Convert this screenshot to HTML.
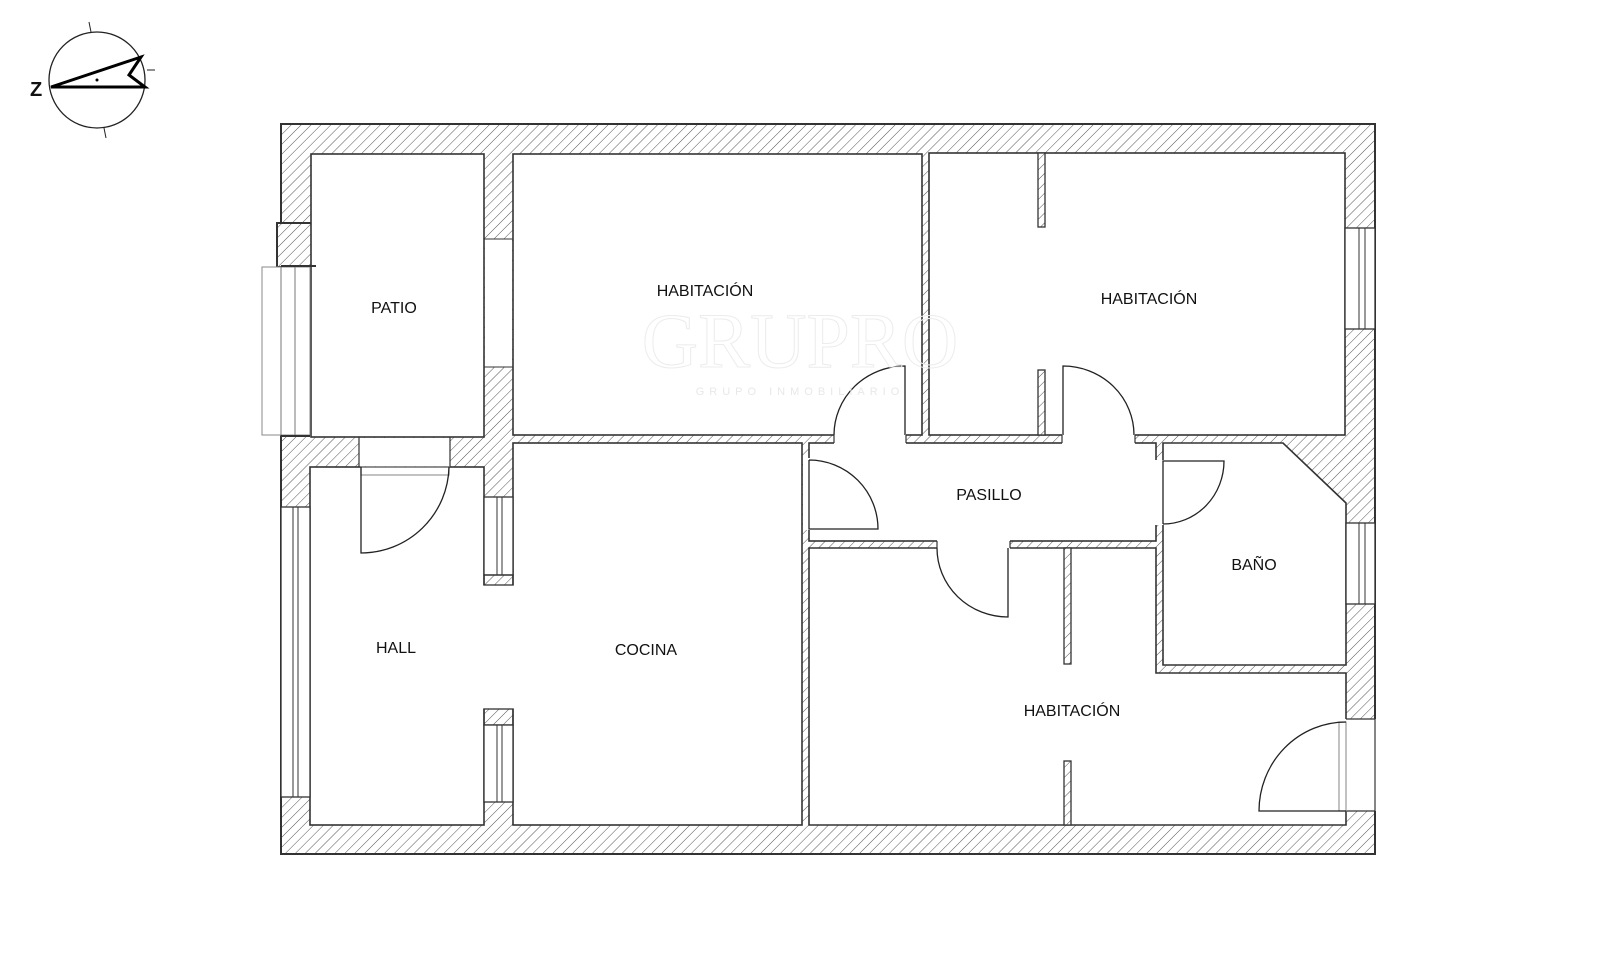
<!DOCTYPE html>
<html><head><meta charset="utf-8"><style>
html,body{margin:0;padding:0;background:#fff;}
svg{display:block;}
text{font-family:"Liberation Sans",sans-serif;fill:#111;}
</style></head><body>
<svg width="1600" height="963" viewBox="0 0 1600 963" xmlns="http://www.w3.org/2000/svg">
<defs>
<pattern id="h" patternUnits="userSpaceOnUse" width="7" height="7" patternTransform="rotate(45)">
<rect width="7" height="7" fill="#fff"/>
<line x1="0" y1="0" x2="0" y2="7" stroke="#555" stroke-width="1"/>
</pattern>
</defs>

<!-- compass -->
<circle cx="97" cy="80" r="48" fill="none" stroke="#222" stroke-width="1.3"/>
<line x1="89" y1="22" x2="91" y2="32" stroke="#222"/>
<line x1="104" y1="128" x2="106" y2="138" stroke="#222"/>
<line x1="147" y1="70" x2="155" y2="70" stroke="#222"/>
<polygon points="51,87 141,57 129,75 145,87" fill="none" stroke="#000" stroke-width="3" stroke-linejoin="miter"/>
<circle cx="97" cy="80" r="1.5" fill="#000"/>
<text x="30" y="96" font-size="20" font-weight="bold">Z</text>

<!-- outer hatched mass -->
<rect x="281" y="124" width="1094" height="730" fill="url(#h)" stroke="#333" stroke-width="2"/>
<rect x="277" y="223" width="39" height="44" fill="url(#h)" stroke="#333" stroke-width="2"/>

<g fill="#fff" stroke="#333" stroke-width="1.6">
<rect x="311" y="154" width="173" height="283"/>
<rect x="513" y="154" width="409" height="281"/>
<rect x="929" y="153" width="416" height="282"/>
<rect x="310" y="467" width="174" height="358"/>
<rect x="513" y="443" width="289" height="382"/>
<rect x="809" y="443" width="347" height="98"/>
<polygon points="1163,443 1283,443 1346,503 1346,665 1163,665"/>
<polygon points="809,548 1156,548 1156,673 1346,673 1346,825 809,825"/>
</g>

<!-- patio window (left) -->
<rect x="262" y="267" width="48" height="168" fill="#fff" stroke="#888" stroke-width="1"/>
<line x1="281" y1="267" x2="281" y2="435" stroke="#777"/>
<line x1="295" y1="267" x2="295" y2="435" stroke="#777"/>
<line x1="281" y1="266" x2="316" y2="266" stroke="#333" stroke-width="2"/>
<line x1="281" y1="436" x2="310" y2="436" stroke="#333" stroke-width="2"/>

<!-- patio-hab1 opening -->
<rect x="485" y="239" width="27" height="128" fill="#fff"/>
<line x1="484" y1="239" x2="513" y2="239" stroke="#333"/>
<line x1="484" y1="367" x2="513" y2="367" stroke="#333"/>

<!-- hall window left -->
<rect x="281" y="507" width="29" height="290" fill="#fff" stroke="#333" stroke-width="1.3"/>
<line x1="293" y1="507" x2="293" y2="797" stroke="#333"/>
<line x1="298" y1="507" x2="298" y2="797" stroke="#333"/>

<!-- hall/cocina openings -->
<rect x="482.5" y="585.5" width="32" height="123" fill="#fff"/>
<rect x="484" y="497" width="29" height="78" fill="#fff" stroke="#333" stroke-width="1.3"/>
<line x1="497" y1="497" x2="497" y2="575" stroke="#333"/><line x1="502" y1="497" x2="502" y2="575" stroke="#333"/>
<rect x="484" y="575" width="29" height="10" fill="none" stroke="#333" stroke-width="1.3"/>
<rect x="484" y="709" width="29" height="16" fill="none" stroke="#333" stroke-width="1.3"/>
<rect x="484" y="725" width="29" height="77" fill="#fff" stroke="#333" stroke-width="1.3"/>
<line x1="497" y1="725" x2="497" y2="802" stroke="#333"/><line x1="502" y1="725" x2="502" y2="802" stroke="#333"/>

<!-- hab2 window right -->
<rect x="1345" y="228" width="30" height="101" fill="#fff" stroke="#333" stroke-width="1.3"/>
<line x1="1359" y1="228" x2="1359" y2="329" stroke="#333"/><line x1="1365" y1="228" x2="1365" y2="329" stroke="#333"/>
<!-- bano window -->
<rect x="1346" y="523" width="29" height="81" fill="#fff" stroke="#333" stroke-width="1.3"/>
<line x1="1359" y1="523" x2="1359" y2="604" stroke="#333"/><line x1="1365" y1="523" x2="1365" y2="604" stroke="#333"/>

<!-- stubs -->
<g fill="url(#h)" stroke="#333" stroke-width="1.3">
<rect x="1038" y="153" width="7" height="74"/>
<rect x="1038" y="370" width="7" height="65"/>
<rect x="1064" y="548" width="7" height="116"/>
<rect x="1064" y="761" width="7" height="64"/>
</g>

<!-- door openings -->
<g fill="#fff" stroke="none">
<rect x="359" y="438" width="91" height="28"/>
<rect x="834" y="434" width="72" height="10"/>
<rect x="1062" y="434" width="73" height="10"/>
<rect x="803" y="458" width="7" height="72"/>
<rect x="1155" y="460" width="9" height="65"/>
<rect x="937" y="540" width="73" height="9"/>
<rect x="1345" y="719" width="31" height="92"/>
</g>
<g fill="none" stroke="#333" stroke-width="1.2">
<line x1="359" y1="437" x2="359" y2="467"/><line x1="450" y1="437" x2="450" y2="467"/>
<rect x="361" y="467" width="88" height="8" stroke="#999"/>
<line x1="834" y1="435" x2="834" y2="443"/><line x1="906" y1="435" x2="906" y2="443"/>
<line x1="1062" y1="435" x2="1062" y2="443"/><line x1="1135" y1="435" x2="1135" y2="443"/>
<line x1="937" y1="541" x2="937" y2="548"/><line x1="1010" y1="541" x2="1010" y2="548"/>
<line x1="1346" y1="719" x2="1375" y2="719"/><line x1="1346" y1="811" x2="1375" y2="811"/>
<line x1="1375" y1="719" x2="1375" y2="811"/>
<rect x="1339" y="722" width="7" height="89" stroke="#999"/>
</g>

<!-- doors -->
<g fill="none" stroke="#222" stroke-width="1.3">
<path d="M361,467 L361,553 A88,88 0 0 0 449,467"/>
<path d="M905,435 L905,366 A71,69 0 0 0 834,435"/>
<path d="M1063,435 L1063,366 A71,69 0 0 1 1134,435"/>
<path d="M809,460 L809,529 L878,529 A69,69 0 0 0 809,460"/>
<path d="M1163,524 L1163,461 L1224,461 A61,63 0 0 1 1163,524"/>
<path d="M1008,548 L1008,617 A71,69 0 0 1 937,548"/>
<path d="M1346,811 L1259,811 A87,89 0 0 1 1346,722"/>
</g>

<!-- watermark -->
<text x="800" y="367" font-size="78" text-anchor="middle" style="font-family:'Liberation Serif',serif;fill:none;stroke:#ececec;stroke-width:1">GRUPRO</text>
<text x="800" y="395" font-size="11" text-anchor="middle" letter-spacing="5" style="fill:#e8e8e8">GRUPO INMOBILIARIO</text>

<!-- labels -->
<g font-size="16" text-anchor="middle">
<text x="394" y="313">PATIO</text>
<text x="705" y="296">HABITACIÓN</text>
<text x="1149" y="304">HABITACIÓN</text>
<text x="989" y="500">PASILLO</text>
<text x="1254" y="570">BAÑO</text>
<text x="396" y="653">HALL</text>
<text x="646" y="655">COCINA</text>
<text x="1072" y="716">HABITACIÓN</text>
</g>
</svg>
</body></html>
